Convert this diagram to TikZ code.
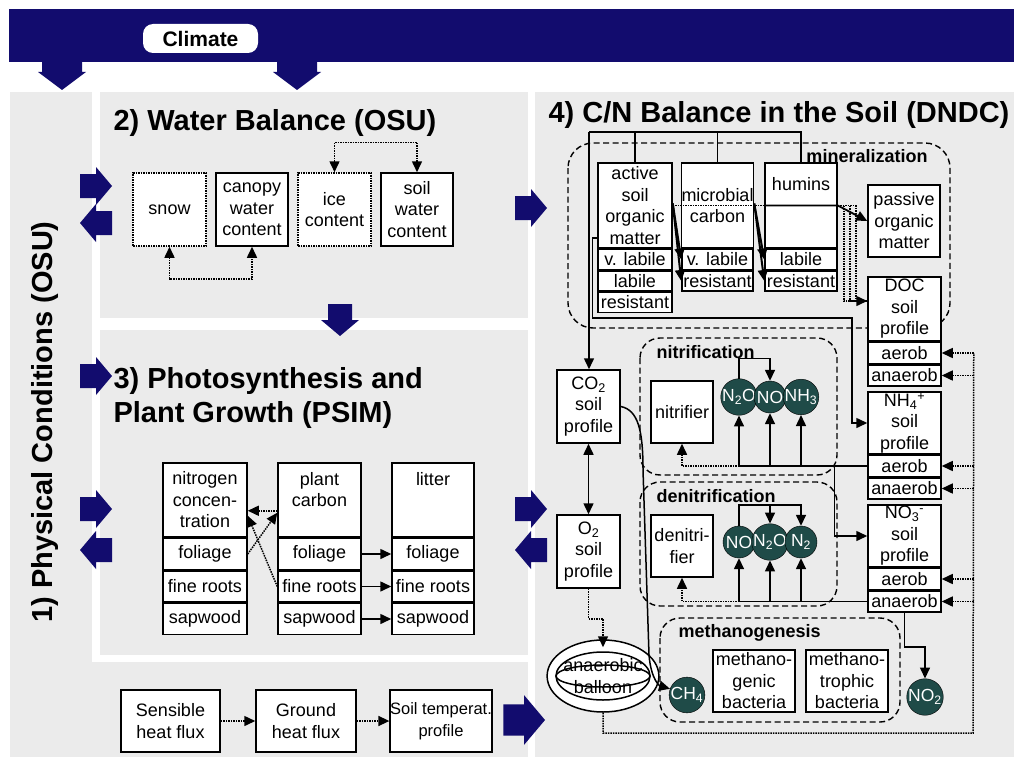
\documentclass[tikz,border=0pt]{standalone}
\usepackage{fontspec}
\setmainfont{Liberation Sans}
\usetikzlibrary{positioning,arrows.meta,calc,shapes.geometric}
\definecolor{navy}{HTML}{120C6E}
\definecolor{panel}{HTML}{EBEBEB}
\definecolor{gasfill}{HTML}{1F4B48}
\newcommand{\bxfont}{\fontsize{18}{21.5}\selectfont}
\newcommand{\ttlfont}{\fontsize{29}{34}\selectfont\bfseries}
\newcommand{\grpfont}{\fontsize{18}{21}\selectfont\bfseries}

\tikzset{
  box/.style={draw, fill=white, line width=1.5pt, inner sep=0pt, align=center, font=\bxfont},
  dotbox/.style={box, densely dotted},
  row/.style={box, minimum height=20},
  gas/.style={circle, draw, fill=gasfill, text=white, minimum size=32, inner sep=0pt,
    font=\fontsize{17.5}{18}\selectfont},
  grp/.style={draw, dash pattern=on 6pt off 3.5pt, line width=1.4pt, rounded corners=20},
  plain/.style={line width=1.5pt},
  flow/.style={line width=1.5pt, ->},
  dline/.style={line width=1.5pt, densely dotted},
  dflow/.style={flow, densely dotted},
  bluearr/.pic={\fill[navy] (-32,-12) -- (-16,-12) -- (-16,-19) -- (0,0) -- (-16,19)
    -- (-16,12) -- (-32,12) -- cycle;},
  climarr/.pic={\fill[navy] (-28,-20) -- (-18,-20) -- (-18,-24) -- (0,0) -- (-18,24)
    -- (-18,20) -- (-28,20) -- cycle;}
}

\begin{document}
\begin{tikzpicture}[x=1pt, y=-1pt, >={Triangle[length=11pt,width=10pt]}, node distance=0pt]
\useasboundingbox (0,0) rectangle (1014,757);
\fill[white] (0,0) rectangle (1014,757);

% panels
\fill[panel] (10,92) rectangle (92,757);
\fill[panel] (10,662) rectangle (528,757);
\fill[panel] (100,92) rectangle (528,318);
\fill[panel] (100,330) rectangle (528,655);
\fill[panel] (535,92) rectangle (1014,757);

% climate band
\fill[navy] (9,9) rectangle (1014,62);
\node[fill=white, rounded corners=10, minimum width=115, minimum height=29, inner sep=0pt,
  font=\fontsize{21}{24}\selectfont\bfseries] (climate) at (200.5,38.5) {Climate};
\foreach \x in {62,297} \pic[rotate=-90] at (\x,90) {climarr};

% big arrows between the parts
\pic at (112,186) {bluearr};
\pic[rotate=180] at (80,223) {bluearr};
\pic at (112,376) {bluearr};
\pic at (112,509) {bluearr};
\pic[rotate=180] at (80,550) {bluearr};
\pic[rotate=-90] at (340,336) {bluearr};
\pic at (547,208) {bluearr};
\pic at (547,509) {bluearr};
\pic[rotate=180] at (515,550) {bluearr};
\pic[scale=1.3] at (545,720) {bluearr};

% titles
\node[rotate=90, font=\ttlfont] (t1) at (45,422) {1) Physical Conditions (OSU)};
\node[anchor=west, font=\ttlfont] (t2) at (110,123) {2) Water Balance (OSU)};
\node[anchor=west, font=\ttlfont, align=left] (t3) at (110,398) {3) Photosynthesis and\\Plant Growth (PSIM)};
\node[font=\ttlfont] (t4) at (779,115) {4) C/N Balance in the Soil (DNDC)};

% 2) water balance
\node[dotbox, minimum width=73, minimum height=73] (snow) at (169.5,209.5) {snow};
\node[box, minimum width=72, minimum height=73] (canopy) at (252,209.5) {canopy\\water\\content};
\node[dotbox, minimum width=73, minimum height=73] (ice) at (334.5,209.5) {ice\\content};
\node[box, minimum width=72, minimum height=73] (soilw) at (417,209.5) {soil\\water\\content};
\draw[dflow, <->] (snow.south) -- ++(0,32) -| (canopy.south);
\draw[dflow, <->] (ice.north) -- ++(0,-30) -| (soilw.north);

% 3) photosynthesis and plant growth
\node[box, minimum width=84, minimum height=74] (ncon) at (205,500) {nitrogen\\concen-\\tration};
\node[box, minimum width=84, minimum height=31, below=of ncon] (ncfol) {foliage};
\node[box, minimum width=84, minimum height=31, below=of ncfol] (ncfr) {fine roots};
\node[box, minimum width=84, minimum height=31, below=of ncfr] (ncsap) {sapwood};
\node[box, minimum width=83, minimum height=74] (pcarb) at (319.5,500) {plant\\carbon\\\phantom{x}};
\node[box, minimum width=83, minimum height=31, below=of pcarb] (pcfol) {foliage};
\node[box, minimum width=83, minimum height=31, below=of pcfol] (pcfr) {fine roots};
\node[box, minimum width=83, minimum height=31, below=of pcfr] (pcsap) {sapwood};
\node[box, minimum width=82, minimum height=74] (litter) at (433,500) {litter\\\phantom{x}\\\phantom{x}};
\node[box, minimum width=82, minimum height=31, below=of litter] (ltfol) {foliage};
\node[box, minimum width=82, minimum height=31, below=of ltfol] (ltfr) {fine roots};
\node[box, minimum width=82, minimum height=31, below=of ltfr] (ltsap) {sapwood};
\draw[flow] (pcfol) -- (ltfol);
\draw[flow] (pcfr) -- (ltfr);
\draw[flow] (pcsap) -- (ltsap);
\draw[dflow] (ncfol.east) -- ($(pcarb.south west)+(0,-25)$);
\draw[dflow] ($(pcarb.south west)+(0,-27)$) -- ($(ncon.south east)+(0,-27)$);
\draw[dflow] (pcfr.west) -- ($(ncon.south east)+(0,-22)$);

% heat flux
\node[box, minimum width=99, minimum height=62] (sens) at (170.5,721) {Sensible\\heat flux};
\node[box, minimum width=100, minimum height=62] (ground) at (306,721) {Ground\\heat flux};
\node[box, minimum width=98, minimum height=62, font=\fontsize{16.5}{21.5}\selectfont] (soilt) at (441,721) {Soil temperat.\\profile};
\draw[dflow] (sens) -- (ground);
\draw[dflow] (ground) -- (soilt);

% 4) C/N balance: groups
\draw[grp, rounded corners=25] (568,143) rectangle (950,328);
\draw[grp] (640,338) rectangle (837,475);
\draw[grp] (640,482) rectangle (837,606);
\draw[grp] (660,618) rectangle (900,722);
\node[font=\grpfont] (minlbl) at (867,156) {mineralization};
\node[font=\grpfont, anchor=west] (nitlbl) at (653,352) {nitrification};
\node[font=\grpfont, anchor=west] (denlbl) at (653,496) {denitrification};
\node[font=\grpfont, anchor=west] (methlbl) at (675,633) {methanogenesis};

% organic pools
\node[box, minimum width=74, minimum height=85] (asom) at (635,205.5) {active\\soil\\organic\\matter};
\node[row, minimum width=74, below=of asom] (asomvl) {v. labile};
\node[row, minimum width=74, below=of asomvl] (asomlb) {labile};
\node[row, minimum width=74, below=of asomlb] (asomrs) {resistant};
\node[box, minimum width=71, minimum height=85] (mic) at (717.5,205.5) {microbial\\carbon};
\node[row, minimum width=71, below=of mic] (micvl) {v. labile};
\node[row, minimum width=71, below=of micvl] (micres) {resistant};
\node[box, minimum width=72, minimum height=85] (hum) at (801,205.5) {humins\\\phantom{x}\\\phantom{x}};
\node[row, minimum width=72, below=of hum] (humlab) {labile};
\node[row, minimum width=72, below=of humlab] (humres) {resistant};
\node[box, minimum width=72, minimum height=72] (pom) at (904,221) {passive\\organic\\matter};

% soil profiles
\node[box, minimum width=73, minimum height=64] (doc) at (904.5,309) {DOC\\soil\\profile};
\node[row, minimum width=73, minimum height=21, below=of doc] (docae) {aerob};
\node[row, minimum width=73, minimum height=21, below=of docae] (docan) {anaerob};
\node[box, minimum width=73, minimum height=62] (nh4) at (904.5,423) {NH\textsubscript{4}\textsuperscript{+}\\soil\\profile};
\node[row, minimum width=73, minimum height=21, below=of nh4] (nh4ae) {aerob};
\node[row, minimum width=73, minimum height=21, below=of nh4ae] (nh4an) {anaerob};
\node[box, minimum width=73, minimum height=62] (no3) at (904.5,536) {NO\textsubscript{3}\textsuperscript{-}\\soil\\profile};
\node[row, minimum width=73, minimum height=21, below=of no3] (no3ae) {aerob};
\node[row, minimum width=73, minimum height=21, below=of no3ae] (no3an) {anaerob};
\node[box, minimum width=63, minimum height=73] (co2) at (588.5,406.5) {CO\textsubscript{2}\\soil\\profile};
\node[box, minimum width=63, minimum height=73] (o2) at (588.5,551.5) {O\textsubscript{2}\\soil\\profile};
\node[ellipse, draw, line width=1.5pt, fill=white, minimum width=94, minimum height=72, inner sep=0pt,
  font=\bxfont, align=center] (balloon) at (603,676) {anaerobic\\balloon};
\draw[plain] (balloon.center) ellipse [x radius=47, y radius=24];
\draw[plain] (balloon.center) ellipse [x radius=47, y radius=11];

% microbes
\node[box, minimum width=62, minimum height=62] (nitrifier) at (682,412) {nitrifier};
\node[box, minimum width=62, minimum height=62] (denitrifier) at (682,546) {denitri-\\fier};
\node[box, minimum width=82, minimum height=62] (mgen) at (754,681) {methano-\\genic\\bacteria};
\node[box, minimum width=82, minimum height=62] (mtro) at (847,681) {methano-\\trophic\\bacteria};

% gases
\node[gas] (n2oA) at (739,397) {N\textsubscript{2}O};
\node[gas] (noA) at (770,397) {NO};
\node[gas] (nh3) at (801,397) {NH\textsubscript{3}};
\node[gas] (noB) at (739,542) {NO};
\node[gas] (n2oB) at (770,542) {N\textsubscript{2}O};
\node[gas] (n2) at (801,542) {N\textsubscript{2}};
\node[gas] (ch4) at (687,695) {CH\textsubscript{4}};
\node[gas] (no2) at (925,697) {NO\textsubscript{2}};

% decomposition
\coordinate (cbar) at (589,132);
\draw[plain] (cbar) -- (hum.north |- cbar) -- (hum.north);
\draw[plain] (asom.north) -- (asom.north |- cbar);
\draw[plain] (mic.north) -- (mic.north |- cbar);
\draw[flow] (cbar) -- (cbar |- co2.north);
\draw[flow] ($(asom.south west)+(0,-11)$) -- ++(-5,0) |- (852,318) |- (nh4.west);
\draw[flow, line width=2pt] ($(asom.east)+(0,-2)$) -- (micvl.west);
\draw[flow, line width=2pt] ($(asom.east)+(0,-2)$) -- (micres.west);
\draw[flow, line width=2pt] ($(mic.east)+(0,-2)$) -- (humlab.west);
\draw[flow, line width=2pt] ($(mic.east)+(0,-2)$) -- (humres.west);
\draw[dline] (asom.east) -- (hum.west);
\draw[flow, line width=1.8pt] (hum.west) -- (hum.east) -- (pom.west);
\coordinate (docin) at ($(doc.west)+(0,-8)$);
\foreach \dx in {6,12} \draw[dline] ($(hum.east)+(\dx,0)$) |- (docin);
\draw[dflow] (hum.east) -- ++(18,0) |- (docin);

% gas exchange
\draw[flow, <->] (co2) -- (o2);
\draw[dflow] (o2.south) -- ++(0,30) -| ($(balloon.north)+(0,8)$);
\draw[flow] (co2.east) .. controls (638,410) and (643,430) .. (643,470)
  -- (649,655) .. controls (651,680) and (660,686) .. (ch4.160);
\coordinate (railtop) at ($(docae.east)+(32,0)$);
\draw[dline] (balloon.south) |- (973,733) -- (railtop);
\foreach \r in {docae,docan,nh4ae,nh4an,no3ae,no3an}
  \draw[dflow] (\r.east -| railtop) -- (\r.east);

% nitrification
\coordinate (nitbase) at (n2oA |- nh4ae.west);
\draw[plain] (nh4ae.west) -- (nitbase);
\foreach \g in {n2oA,noA,nh3} \draw[flow] (\g |- nitbase) -- (\g.south);
\draw[dflow] (nitbase) -| (nitrifier.south);
\draw[flow] (n2oA.north) -- ++(0,-20) -| (noA.north);
\draw[flow] ($(nh4ae.west)+(-33,0)$) |- (no3.west);

% denitrification
\coordinate (denbase) at (noB |- no3an.west);
\draw[plain] (no3an.west) -- (denbase);
\foreach \g in {noB,n2oB,n2} \draw[flow] (\g |- denbase) -- (\g.south);
\draw[dflow] (denbase) -| (denitrifier.south);
\draw[flow] (noB.north) -- ++(0,-21) -| (n2.north);
\draw[flow] ($(noB.north)+(0,-21)$) -| (n2oB.north);
\draw[flow] (no3an.south) -- ++(0,34) -| (no2.north);
\end{tikzpicture}
\end{document}
